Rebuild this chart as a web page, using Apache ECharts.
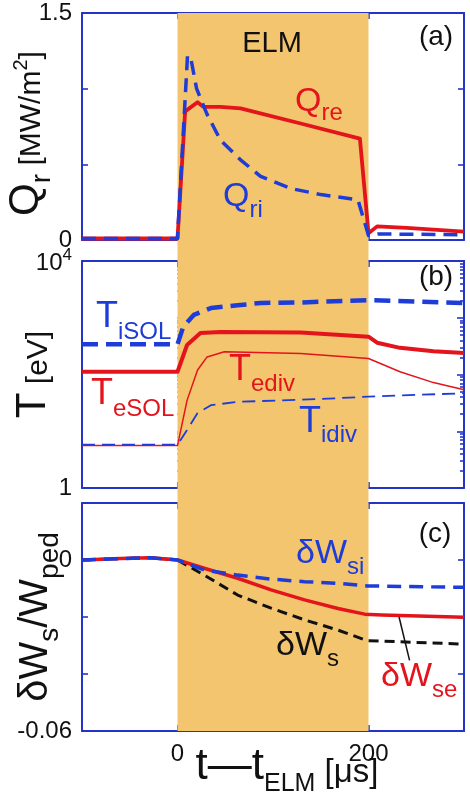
<!DOCTYPE html>
<html><head><meta charset="utf-8">
<script src="https://cdn.jsdelivr.net/npm/echarts@6/dist/echarts.min.js"></script>
<style>html,body{margin:0;padding:0;background:#fff}#c{width:470px;height:795px}</style>
</head><body><div id="c"></div>
<script>
// ---------------- data ----------------
const xRange = [-100, 300];
const elmWindow = [0, 200];
const xTickLabels = [0, 200];

// (a) heat flux Q_r [MW/m^2]
const tQre = [-100, 0, 8, 21, 27, 45, 66, 129, 191, 200, 209, 240, 300];
const Qre  = [0.01, 0.01, 0.85, 0.91, 0.88, 0.88, 0.87, 0.77, 0.67, 0.045, 0.09, 0.08, 0.055];
const tQri = [-100, 0, 10.5, 14, 20, 31, 45, 66, 87, 119, 150, 189, 200, 210, 300];
const Qri  = [0.01, 0.01, 1.22, 1.2, 1.0, 0.83, 0.66, 0.53, 0.42, 0.34, 0.30, 0.265, 0.03, 0.04, 0.035];

// (b) temperatures T [eV]
const tTiSOL = [-100, 0, 6, 17, 35, 63, 87, 129, 200, 300];
const TiSOL  = [340, 340, 690, 1120, 1480, 1660, 1820, 1860, 2040, 1820];
const tTeSOL = [-100, 0, 10, 24, 45, 129, 200, 209, 233, 268, 300];
const TeSOL  = [112, 112, 331, 537, 562, 550, 464, 363, 295, 257, 240];
const tTediv = [-100, 0, 10, 21, 31, 49, 129, 200, 233, 268, 300];
const Tediv  = [5.6, 5.6, 35, 120, 204, 251, 234, 191, 112, 72, 54];
const tTidiv = [-100, 0, 10, 21, 35, 63, 150, 200, 300];
const Tidiv  = [5.8, 5.8, 10.5, 20.9, 28.8, 33, 37, 40.7, 46.8];

// (c) stored energy change dW/W_ped
const tWs  = [-100, -60, -28, 0, 28, 63, 98, 133, 168, 196, 200, 300];
const Ws   = [0, 0.0005, 0.0008, 0, -0.0053, -0.0123, -0.0169, -0.021, -0.0246, -0.028, -0.0283, -0.0295];
const tWse = [-100, -60, -28, 0, 28, 63, 98, 133, 168, 196, 214, 300];
const Wse  = [0, 0.0005, 0.0008, 0, -0.0029, -0.0064, -0.0105, -0.014, -0.017, -0.019, -0.0193, -0.0201];
const tWsi = [-100, -60, -28, 0, 28, 63, 98, 133, 168, 199, 300];
const Wsi  = [0, 0.0005, 0.0008, 0, -0.0035, -0.0053, -0.0067, -0.0076, -0.0082, -0.0091, -0.0096];

// y axis ranges / tick labels
const yA = {min: 0, max: 1.5, interval: 0.5, labels: [0, 1.5]};
const yB = {min: 1, max: 10000, labels: [1, 10000]};
const yC = {min: -0.06, max: 0.02, interval: 0.02, labels: [0, -0.06]};
const logMinor = [2,3,4,5,6,7,8,9];

// ---------------- styling ----------------
const FONT = "'Liberation Sans', Arial, Helvetica, sans-serif";
const AX = '#2434c8';
const RED = '#e3141c';
const BLUE = '#1d3cd8';
const BAND = '#f2c56e';

const grids = [
  {left: 82, right: 6, top: 13, height: 227},
  {left: 82, right: 6, top: 261, height: 227},
  {left: 82, right: 6, top: 503, height: 228},
  {left: 82, right: 6, top: 13, height: 718}
].map(g => Object.assign(g, {outerBoundsMode: 'none', containLabel: false}));

const zip = (t, v) => t.map((x, i) => [x, v[i]]);
const axLine = {show: true, onZero: false, lineStyle: {color: AX, width: 2}};
const tick = (len) => ({show: true, inside: true, length: len, lineStyle: {color: AX, width: 1.6}});
const near = (a, b) => Math.abs(a - b) < 1e-9;

const xAxes = [], yAxes = [];
for (let g = 0; g < 3; g++) {
  const bottom = {
    type: 'value', gridIndex: g, position: 'bottom', min: xRange[0], max: xRange[1], interval: 100,
    axisLine: axLine, axisTick: tick(6), splitLine: {show: false},
    axisLabel: {show: g === 2, margin: 11, color: '#111', fontSize: 24, fontFamily: FONT,
      formatter: v => xTickLabels.some(l => near(l, v)) ? String(v) : ''}
  };
  if (g === 2) {
    bottom.name = '{m|t\u2014t}{s|ELM}{b| [\u03bcs]}';
    bottom.nameLocation = 'middle';
    bottom.nameGap = 14;
    bottom.nameMoveOverlap = false;
    bottom.nameTextStyle = {color: '#111', fontFamily: FONT, padding: [0, 0, 0, 28], rich: {
      m: {fontSize: 44, padding: [0, 0, 8, 0], verticalAlign: 'bottom', fontFamily: FONT, color: '#111'},
      s: {fontSize: 25, verticalAlign: 'bottom', fontFamily: FONT, color: '#111'},
      b: {fontSize: 33, padding: [0, 0, 8, 0], verticalAlign: 'bottom', fontFamily: FONT, color: '#111'}
    }};
  }
  xAxes.push(bottom);
  xAxes.push({type: 'value', gridIndex: g, position: 'top', min: xRange[0], max: xRange[1], interval: 100,
    axisLine: axLine, axisTick: tick(6), axisLabel: {show: false}, splitLine: {show: false}});
}
// band axes
xAxes.push({type: 'value', gridIndex: 3, min: xRange[0], max: xRange[1], show: false});

const lblStyle = {color: '#111', fontSize: 24, fontFamily: FONT, margin: 10};
// panel a
yAxes.push({type: 'value', gridIndex: 0, position: 'left', min: yA.min, max: yA.max, interval: yA.interval,
  axisLine: axLine, axisTick: tick(6), splitLine: {show: false},
  axisLabel: Object.assign({}, lblStyle, {formatter: v => yA.labels.some(l => near(l, v)) ? String(v) : ''}),
  name: '{m|Q}{s|r}{b| [MW/m}{p|2}{b|]}', nameLocation: 'middle', nameRotate: 90, nameGap: 26, nameMoveOverlap: false,
  nameTextStyle: {color: '#111', fontFamily: FONT, padding: [0, 14, 0, 0], rich: {
    m: {fontSize: 42, padding: [0, 0, 9, 0], verticalAlign: 'bottom', fontFamily: FONT, color: '#111'},
    s: {fontSize: 28, verticalAlign: 'bottom', fontFamily: FONT, color: '#111'},
    b: {fontSize: 30, padding: [0, 0, 9, 0], verticalAlign: 'bottom', fontFamily: FONT, color: '#111'},
    p: {fontSize: 20, padding: [0, 0, 25, 0], verticalAlign: 'bottom', fontFamily: FONT, color: '#111'}
  }}});
yAxes.push({type: 'value', gridIndex: 0, position: 'right', min: yA.min, max: yA.max, interval: yA.interval,
  axisLine: axLine, axisTick: tick(6), axisLabel: {show: false}, splitLine: {show: false}});
// panel b (log)
const IDX_B = yAxes.length;
yAxes.push({type: 'log', logBase: 10, gridIndex: 1, position: 'left', min: yB.min, max: yB.max,
  axisLine: axLine, axisTick: {show: false}, splitLine: {show: false}, minorTick: {show: false},
  axisLabel: Object.assign({}, lblStyle, {
    formatter: v => near(v, 10000) ? '{n|10}{p|4}' : (near(v, 1) ? '{n|1}' : ''),
    rich: {n: {fontSize: 24, verticalAlign: 'bottom', fontFamily: FONT, color: '#111'},
           p: {fontSize: 17, padding: [0, 0, 12, 0], verticalAlign: 'bottom', fontFamily: FONT, color: '#111'}}
  }),
  name: '{m|T}{b| [eV]}', nameLocation: 'middle', nameRotate: 90, nameGap: 28, nameMoveOverlap: false,
  nameTextStyle: {color: '#111', fontFamily: FONT, rich: {
    m: {fontSize: 42, verticalAlign: 'bottom', fontFamily: FONT, color: '#111'},
    b: {fontSize: 30, verticalAlign: 'bottom', fontFamily: FONT, color: '#111'}
  }}});
const minorVals = [];
for (let d = 0; d < 4; d++) logMinor.forEach(m => minorVals.push(d + Math.log10(m)));
['left', 'right'].forEach(pos => {
  yAxes.push({type: 'value', gridIndex: 1, position: pos, min: 0, max: 4, interval: 1,
    axisLine: pos === 'right' ? axLine : {show: false}, axisTick: tick(7), axisLabel: {show: false}, splitLine: {show: false}});
  yAxes.push({type: 'value', gridIndex: 1, position: pos, min: 0, max: 4,
    axisLine: {show: false}, axisTick: Object.assign(tick(4), {customValues: minorVals}),
    axisLabel: {show: false}, splitLine: {show: false}});
});
// panel c
const IDX_C = yAxes.length;
yAxes.push({type: 'value', gridIndex: 2, position: 'left', min: yC.min, max: yC.max, interval: yC.interval,
  axisLine: axLine, axisTick: tick(6), splitLine: {show: false},
  axisLabel: Object.assign({}, lblStyle, {formatter: v => yC.labels.some(l => near(l, v)) ? String(Math.round(v * 100) / 100) : ''}),
  name: '{m|\u03b4W}{s|s}{m|/W}{s|ped}', nameLocation: 'middle', nameRotate: 90, nameGap: 18, nameMoveOverlap: false,
  nameTextStyle: {color: '#111', fontFamily: FONT, rich: {
    m: {fontSize: 40, padding: [0, 0, 8, 0], verticalAlign: 'bottom', fontFamily: FONT, color: '#111'},
    s: {fontSize: 28, verticalAlign: 'bottom', fontFamily: FONT, color: '#111'}
  }}});
yAxes.push({type: 'value', gridIndex: 2, position: 'right', min: yC.min, max: yC.max, interval: yC.interval,
  axisLine: axLine, axisTick: tick(6), axisLabel: {show: false}, splitLine: {show: false}});
const IDX_BAND = yAxes.length;
yAxes.push({type: 'value', gridIndex: 3, min: 0, max: 1, show: false});

const line = (name, xi, yi, data, color, width, dash, z) => ({
  name, type: 'line', xAxisIndex: xi, yAxisIndex: yi, data, showSymbol: false, symbol: 'none',
  silent: true, animation: false, z: z || 3,
  lineStyle: {color, width, type: dash || 'solid', cap: 'butt', join: 'round'}
});

const series = [
  {type: 'line', xAxisIndex: 6, yAxisIndex: IDX_BAND, data: [[xRange[0], 0]], showSymbol: false, silent: true,
   lineStyle: {width: 0, opacity: 0}, z: -1,
   markArea: {silent: true, itemStyle: {color: BAND}, data: [[{xAxis: elmWindow[0]}, {xAxis: elmWindow[1]}]]}},
  line('Qre', 0, 0, zip(tQre, Qre), RED, 3.8),
  line('Qri', 0, 0, zip(tQri, Qri), BLUE, 3.5, [14, 8]),
  line('TeSOL', 2, IDX_B, zip(tTeSOL, TeSOL), RED, 4),
  line('Tediv', 2, IDX_B, zip(tTediv, Tediv), RED, 1.5),
  line('TiSOL', 2, IDX_B, zip(tTiSOL, TiSOL), BLUE, 4.5, [16, 8]),
  line('Tidiv', 2, IDX_B, zip(tTidiv, Tidiv), BLUE, 1.8, [13, 7]),
  line('Ws', 4, IDX_C, zip(tWs, Ws), '#111', 3, [10, 6]),
  Object.assign(line('Wse', 4, IDX_C, zip(tWse, Wse), RED, 3.5), {
    markLine: {silent: true, symbol: 'none', label: {show: false}, animation: false,
      lineStyle: {color: '#111', width: 1.5, type: 'solid'},
      data: [[{coord: [232, -0.0200]}, {coord: [243, -0.0352]}]]}}),
  line('Wsi', 4, IDX_C, zip(tWsi, Wsi), BLUE, 3.5, [14, 8])
];

// text labels
function lab(x, yb, main, sub, color, drop, ms, ss) {
  return {type: 'text', x, y: yb, z: 100, silent: true, style: {
    text: '{m|' + main + '}{s|' + sub + '}', fill: color, align: 'left', verticalAlign: 'bottom',
    font: (ss || 24) + 'px ' + FONT,
    rich: {m: {fontSize: ms || 34, fontFamily: FONT, fill: color, padding: [0, 0, drop, 0], verticalAlign: 'bottom'},
           s: {fontSize: ss || 24, fontFamily: FONT, fill: color, verticalAlign: 'bottom'}}
  }};
}
function plain(x, y, text, size, align) {
  return {type: 'text', x, y, z: 100, silent: true, style: {text, fill: '#111', font: size + 'px ' + FONT,
    align: align || 'center', verticalAlign: 'middle'}};
}
const graphic = [
  plain(272, 44, 'ELM', 29),
  plain(436, 37, '(a)', 28), plain(436, 277, '(b)', 28), plain(435, 534, '(c)', 28),
  lab(295, 125, 'Q', 're', RED, 6),
  lab(223, 222, 'Q', 'ri', BLUE, 8),
  lab(96, 344, 'T', 'iSOL', BLUE, 9, 36),
  lab(91, 421, 'T', 'eSOL', RED, 9, 36),
  lab(229, 396, 'T', 'ediv', RED, 8, 36),
  lab(299, 447, 'T', 'idiv', BLUE, 7, 36),
  lab(296, 579, '\u03b4W', 'si', BLUE, 8),
  lab(276, 671, '\u03b4W', 's', '#111', 8),
  lab(381, 702, '\u03b4W', 'se', RED, 8)
];

const chart = echarts.init(document.getElementById('c'), null, {renderer: 'canvas'});
chart.setOption({
  animation: false,
  backgroundColor: '#fff',
  grid: grids,
  xAxis: xAxes,
  yAxis: yAxes,
  series,
  graphic
});
</script>
</body></html>
